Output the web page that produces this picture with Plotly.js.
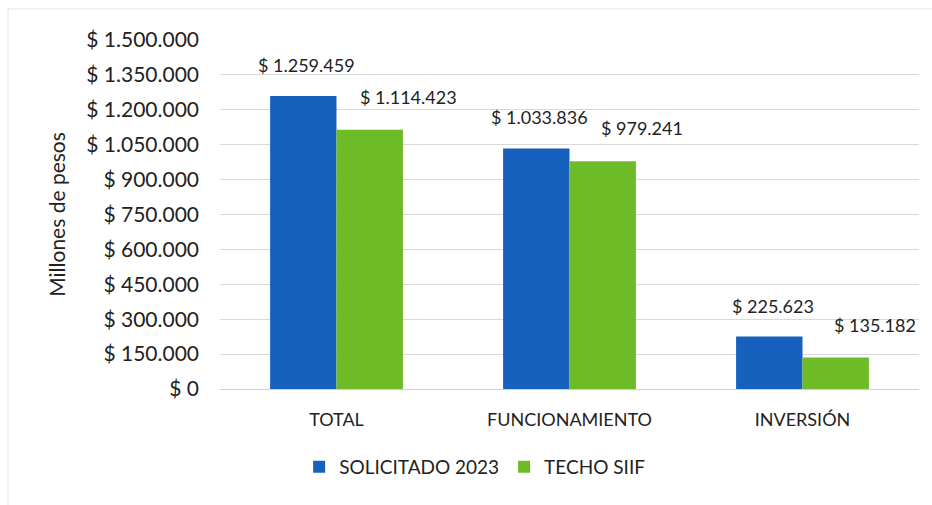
<!DOCTYPE html>
<html>
<head>
<meta charset="utf-8">
<script src="https://cdn.plot.ly/plotly-3.0.1.min.js"></script>
<style>
html,body{margin:0;padding:0;background:#fff;}
#chart{width:932px;height:505px;}
</style>
</head>
<body>
<div id="chart"></div>
<script>
const categories = ["TOTAL", "FUNCIONAMIENTO", "INVERSIÓN"];
const solicitado = [1259459, 1033836, 225623];
const techo = [1114423, 979241, 135182];
const seriesNames = ["SOLICITADO 2023", "TECHO SIIF"];
const yTickVals = [0, 150000, 300000, 450000, 600000, 750000, 900000, 1050000, 1200000, 1350000, 1500000];
const yTickText = ["$ 0", "$ 150.000", "$ 300.000", "$ 450.000", "$ 600.000", "$ 750.000", "$ 900.000", "$ 1.050.000", "$ 1.200.000", "$ 1.350.000", "$ 1.500.000"];

const BLUE = "#1660be";
const GREEN = "#6cbb27";
const FONT = "Lato, 'Open Sans', sans-serif";

function fmt(v){
  return "$ " + String(v).replace(/\B(?=(\d{3})+(?!\d))/g, ".");
}

const traces = [
  {type:"bar", name:seriesNames[0], x:categories, y:solicitado, marker:{color:BLUE}, hoverinfo:"none"},
  {type:"bar", name:seriesNames[1], x:categories, y:techo, marker:{color:GREEN}, hoverinfo:"none"}
];

const annotations = [];
categories.forEach((c,i)=>{
  annotations.push({x:c, y:solicitado[i], xref:"x", yref:"y", text:fmt(solicitado[i]), showarrow:false,
    xshift:-30, yshift:18, yanchor:"bottom", font:{family:FONT, size:18, color:"#222"}});
  annotations.push({x:c, y:techo[i], xref:"x", yref:"y", text:fmt(techo[i]), showarrow:false,
    xshift:72, yshift:20, yanchor:"bottom", font:{family:FONT, size:18, color:"#222"}});
});

const layout = {
  width:932, height:505,
  margin:{l:220, r:13, t:40, b:116},
  paper_bgcolor:"#fff", plot_bgcolor:"#fff",
  barmode:"group",
  bargap:0.43,
  bargroupgap:0,
  font:{family:FONT, color:"#222"},
  showlegend:true,
  legend:{orientation:"h", x:0.365, xanchor:"center", y:-0.223, yanchor:"middle",
    font:{family:FONT, size:19, color:"#222"}, traceorder:"normal", itemwidth:30},
  xaxis:{
    tickfont:{family:FONT, size:18, color:"#222"},
    showline:true, linecolor:"#d0d0d0", linewidth:1,
    ticks:"", ticklabelstandoff:14
  },
  yaxis:{
    range:[0, 1500000],
    tickvals:yTickVals,
    ticktext:yTickText,
    tickfont:{family:FONT, size:21, color:"#222"},
    showgrid:true, gridcolor:"#d9d9d9", gridwidth:1,
    zeroline:false, showline:false,
    ticklabelstandoff:20,
    automargin:false,
    title:{text:"Millones de pesos", font:{family:FONT, size:21, color:"#222"}, standoff:14}
  },
  shapes:[
    {type:"line", xref:"paper", yref:"paper", x0:-0.3033, x1:1.03, y0:1.0888, y1:1.0888, line:{color:"#e4e4e4", width:1}},
    {type:"line", xref:"paper", yref:"paper", x0:-0.3033, x1:-0.3033, y0:1.0888, y1:-0.35, line:{color:"#e4e4e4", width:1}}
  ],
  annotations:annotations
};

Plotly.newPlot("chart", traces, layout, {displayModeBar:false, staticPlot:true});
</script>
</body>
</html>
